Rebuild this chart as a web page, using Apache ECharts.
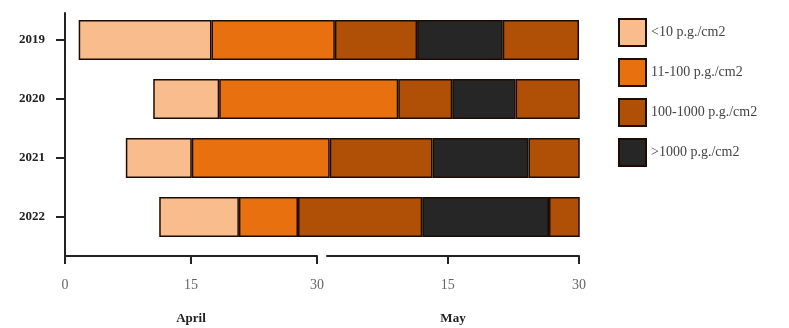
<!DOCTYPE html>
<html>
<head>
<meta charset="utf-8">
<script src="https://cdn.jsdelivr.net/npm/echarts@6/dist/echarts.min.js"></script>
<style>
  html, body { margin: 0; padding: 0; background: #fff; }
  #chart { width: 789px; height: 328px; }
</style>
</head>
<body>
<div id="chart"></div>
<script>
// 年份
const years = ['2019', '2020', '2021', '2022']
// 起始日 (4月1日 = 0, 5月d日 = 30 + d)
const startDay = [1.6, 10.3, 7.1, 11.0]
// 各浓度区间持续天数
const lt10 = [15.5, 7.7, 7.7, 9.3]
const r11to100 = [14.4, 20.9, 16.1, 6.9]
const r100to1000 = [9.6, 6.3, 12.0, 14.5]
const gt1000 = [10.0, 7.4, 11.2, 14.8]
const tail = [8.9, 7.6, 6.1, 3.7]
// 图例
const classNames = ['<10 p.g./cm2', '11-100 p.g./cm2', '100-1000 p.g./cm2', '>1000 p.g./cm2']
const classColors = ['#f9bd8d', '#e8700e', '#b04f06', '#262626']
// 坐标轴标签
const aprilTicks = [0, 15, 30]
const mayTicks = [15, 30]

const serif = '"Liberation Serif", "DejaVu Serif", serif'
const border = { borderColor: '#1c0c03', borderWidth: 1.5 }

const chart = echarts.init(document.getElementById('chart'))

function seg(name, data, color) {
  return {
    name: name,
    type: 'bar',
    stack: 'days',
    xAxisIndex: 0,
    yAxisIndex: 0,
    barWidth: 40,
    data: data,
    itemStyle: Object.assign({ color: color }, border)
  }
}

const option = {
  animation: false,
  legend: {
    orient: 'vertical',
    left: 618,
    top: 18,
    padding: 0,
    itemWidth: 27,
    itemHeight: 27,
    itemGap: 11,
    icon: 'rect',
    data: classNames,
    textStyle: { fontFamily: serif, fontSize: 14, color: '#444' }
  },
  grid: [
    // 条形图
    { left: 65, width: 514, top: 10.5, height: 236, outerBoundsMode: 'none' },
    // 四月坐标
    { left: 65, width: 252, top: 13, height: 243, outerBoundsMode: 'none' },
    // 五月坐标
    { left: 327, width: 252, top: 13, height: 243, outerBoundsMode: 'none' }
  ],
  xAxis: [
    { gridIndex: 0, type: 'value', min: 0, max: 60, show: false },
    {
      gridIndex: 1, type: 'value', min: 0, max: 30, interval: 15,
      name: 'April', nameLocation: 'middle', nameGap: 56,
      nameTextStyle: { fontFamily: serif, fontSize: 13, fontWeight: 'bold', color: '#222' },
      axisLine: { lineStyle: { color: '#222', width: 2 } },
      axisTick: { inside: false, length: 8, lineStyle: { color: '#222', width: 2 } },
      axisLabel: {
        margin: 22, fontFamily: serif, fontSize: 14, color: '#666',
        formatter: v => aprilTicks.includes(v) ? String(v) : ''
      },
      splitLine: { show: false }
    },
    {
      gridIndex: 2, type: 'value', min: 1.2, max: 30,
      name: 'May', nameLocation: 'middle', nameGap: 56,
      nameTextStyle: { fontFamily: serif, fontSize: 13, fontWeight: 'bold', color: '#222' },
      axisLine: { lineStyle: { color: '#222', width: 2 } },
      axisTick: { customValues: mayTicks, length: 8, lineStyle: { color: '#222', width: 2 } },
      axisLabel: {
        customValues: mayTicks, margin: 22, fontFamily: serif, fontSize: 14, color: '#666'
      },
      splitLine: { show: false }
    }
  ],
  yAxis: [
    {
      gridIndex: 0, type: 'category', data: years, inverse: true,
      axisLine: { show: false },
      axisTick: { show: true, alignWithLabel: true, length: 9, lineStyle: { color: '#222', width: 2 } },
      axisLabel: { margin: 20, fontFamily: serif, fontSize: 13, fontWeight: 'bold', color: '#222' }
    },
    {
      gridIndex: 1, type: 'value', min: 0, max: 1,
      axisLine: { show: true, lineStyle: { color: '#222', width: 2 } },
      axisTick: { show: false }, axisLabel: { show: false }, splitLine: { show: false }
    },
    { gridIndex: 2, type: 'value', min: 0, max: 1, show: false }
  ],
  series: [
    {
      name: 'offset', type: 'bar', stack: 'days', barWidth: 40,
      data: startDay, itemStyle: { color: 'transparent' },
      silent: true
    },
    seg(classNames[0], lt10, classColors[0]),
    seg(classNames[1], r11to100, classColors[1]),
    seg(classNames[2], r100to1000, classColors[2]),
    seg(classNames[3], gt1000, classColors[3]),
    seg('tail', tail, classColors[2])
  ]
}

chart.setOption(option)
</script>
</body>
</html>
